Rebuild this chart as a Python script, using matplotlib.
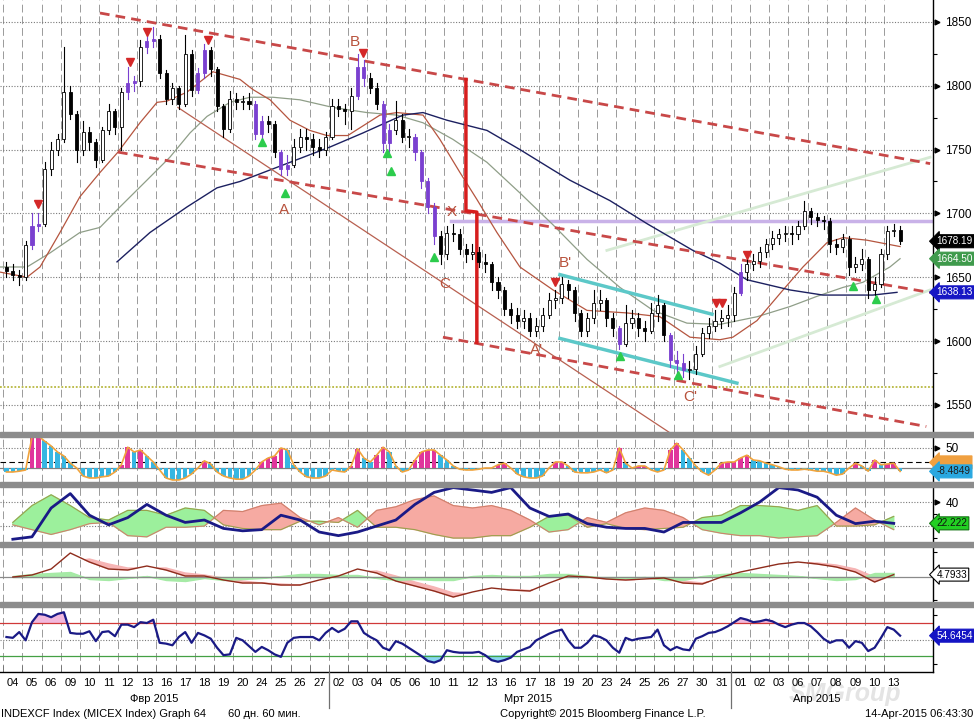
import matplotlib
matplotlib.use('Agg')
import matplotlib.pyplot as plt
import numpy as np
from matplotlib.patches import Rectangle
from matplotlib.lines import Line2D

plt.rcParams['font.family'] = ['Liberation Sans', 'DejaVu Sans']

# trading days on the axis
days = ['04', '05', '06', '09', '10', '11', '12', '13', '16', '17', '18', '19', '20', '24', '25', '26', '27',
        '02', '03', '04', '05', '06', '10', '11', '12', '13', '16', '17', '18', '19', '20', '23', '24', '25',
        '26', '27', '30', '31',
        '01', '02', '03', '06', '07', '08', '09', '10', '13']
months = ['Фвр 2015', 'Мрт 2015', 'Апр 2015']
month_label_x = [7.9, 27.4, 42.5]
month_breaks = [17, 38]

# price bars (3 per trading day)
first_open = 1658
close = [1655, 1652, 1650, 1675, 1690, 1692, 1735, 1750, 1758, 1795,
         1778, 1750, 1764, 1756, 1742, 1765, 1780, 1768, 1795, 1802,
         1804, 1830, 1835, 1837, 1810, 1790, 1798, 1786, 1825, 1797,
         1810, 1828, 1813, 1784, 1766, 1790, 1787, 1788, 1786, 1762,
         1772, 1770, 1748, 1735, 1738, 1752, 1760, 1758, 1752, 1750,
         1760, 1784, 1782, 1780, 1792, 1815, 1806, 1798, 1786, 1755,
         1765, 1773, 1760, 1760, 1748, 1725, 1705, 1682, 1668, 1685,
         1684, 1672, 1668, 1670, 1662, 1660, 1646, 1640, 1625, 1620,
         1616, 1618, 1608, 1612, 1620, 1632, 1634, 1645, 1640, 1622,
         1608, 1618, 1630, 1632, 1618, 1610, 1598, 1614, 1618, 1610,
         1608, 1622, 1628, 1605, 1585, 1583, 1577, 1578, 1590, 1606,
         1612, 1616, 1618, 1620, 1638, 1654, 1660, 1663, 1670, 1676,
         1681, 1684, 1685, 1684, 1690, 1702, 1697, 1695, 1694, 1676,
         1674, 1680, 1658, 1660, 1664, 1640, 1645, 1668, 1686, 1687,
         1678.19]
high = [1662, 1660, 1656, 1678, 1700, 1700, 1740, 1756, 1762, 1830,
        1800, 1780, 1772, 1768, 1758, 1768, 1786, 1782, 1798, 1815,
        1808, 1836, 1840, 1846, 1840, 1812, 1802, 1800, 1840, 1828,
        1814, 1833, 1830, 1815, 1786, 1796, 1794, 1792, 1794, 1788,
        1776, 1776, 1772, 1750, 1746, 1758, 1766, 1766, 1762, 1758,
        1764, 1790, 1790, 1786, 1798, 1825, 1820, 1810, 1802, 1788,
        1770, 1788, 1778, 1766, 1762, 1750, 1728, 1708, 1686, 1690,
        1692, 1688, 1676, 1676, 1674, 1668, 1662, 1650, 1642, 1630,
        1626, 1624, 1622, 1618, 1626, 1638, 1640, 1650, 1648, 1642,
        1624, 1622, 1640, 1640, 1634, 1622, 1612, 1628, 1624, 1622,
        1616, 1630, 1636, 1630, 1606, 1592, 1590, 1584, 1596, 1610,
        1618, 1624, 1624, 1628, 1642, 1660, 1664, 1668, 1674, 1680,
        1686, 1688, 1690, 1690, 1694, 1710, 1704, 1700, 1698, 1696,
        1680, 1684, 1682, 1666, 1672, 1666, 1650, 1672, 1690, 1692,
        1690]
low = [1650, 1648, 1644, 1648, 1672, 1686, 1690, 1730, 1746, 1756,
       1774, 1740, 1746, 1750, 1736, 1740, 1762, 1762, 1750, 1790,
       1796, 1800, 1826, 1830, 1806, 1786, 1786, 1782, 1784, 1792,
       1794, 1806, 1808, 1780, 1760, 1764, 1782, 1782, 1782, 1758,
       1758, 1764, 1744, 1730, 1730, 1736, 1748, 1750, 1746, 1744,
       1746, 1758, 1776, 1770, 1766, 1790, 1800, 1794, 1782, 1748,
       1748, 1762, 1756, 1752, 1742, 1720, 1700, 1676, 1660, 1664,
       1678, 1668, 1662, 1664, 1658, 1654, 1640, 1634, 1620, 1614,
       1610, 1610, 1604, 1604, 1608, 1618, 1626, 1630, 1634, 1616,
       1604, 1604, 1614, 1624, 1612, 1604, 1594, 1596, 1610, 1604,
       1600, 1606, 1616, 1600, 1580, 1576, 1572, 1570, 1574, 1588,
       1602, 1608, 1610, 1612, 1616, 1636, 1648, 1656, 1658, 1666,
       1672, 1676, 1678, 1676, 1680, 1688, 1692, 1690, 1688, 1670,
       1668, 1670, 1652, 1654, 1656, 1634, 1636, 1642, 1664, 1682,
       1676]
purple_bars = [4, 5, 19, 20, 22, 23, 30, 31, 39, 40, 43, 44, 55, 56, 59, 60,
               64, 65, 66, 67, 96, 104, 105, 106, 115]

# moving averages (day position, price)
ma_red_x = [-0.17, 1.24, 1.92, 2.96, 4.0, 5.05, 5.99, 7.14, 8.03, 8.55, 9.59, 10.95, 12.36, 13.04,
            13.93, 14.97, 16.01, 16.9, 17.99, 19.67, 20.56, 21.92, 22.8, 23.85, 24.73, 25.78, 26.98,
            28.71, 30.48, 32.57, 34.29, 35.86, 37.42, 38.1, 39.36, 40.72, 41.76, 43.01, 43.85, 45.1, 46.83]
ma_red_y = [1654, 1650, 1658, 1685, 1713, 1732, 1748, 1771, 1787, 1788, 1795, 1811, 1805, 1797,
            1789, 1773, 1765, 1761, 1761, 1777, 1779, 1777, 1758, 1732, 1711, 1685, 1658,
            1640, 1624, 1622, 1619, 1603, 1601, 1603, 1616, 1640, 1658, 1677, 1681, 1679, 1674]
ma_gray_x = [-0.17, 1.24, 2.44, 4.0, 5.05, 6.09, 7.5, 8.7, 9.75, 10.64, 11.84, 12.88, 14.08, 15.49,
             17.22, 18.99, 20.56, 21.92, 23.48, 25.26, 26.98, 28.71, 30.48, 32.2, 33.93, 35.7, 37.42,
             39.36, 41.08, 42.49, 43.85, 44.89, 46.3, 46.83]
ma_gray_y = [1658, 1658, 1669, 1685, 1689, 1705, 1726, 1744, 1763, 1776, 1787, 1791, 1791, 1789,
             1783, 1779, 1777, 1771, 1758, 1740, 1716, 1691, 1664, 1642, 1624, 1614, 1613,
             1619, 1627, 1635, 1642, 1646, 1658, 1664.5]
ma_navy_x = [5.94, 7.66, 9.59, 11.16, 12.36, 14.45, 17.06, 18.78, 19.67, 20.87, 21.92, 23.17, 25.26,
             26.98, 28.71, 29.59, 31.68, 33.61, 36.01, 37.42, 38.83, 41.08, 42.8, 45.41, 46.67]
ma_navy_y = [1662, 1685, 1705, 1720, 1725, 1737, 1752, 1763, 1769, 1777, 1779, 1773, 1765,
             1750, 1734, 1726, 1710, 1692, 1671, 1661, 1648, 1640, 1636, 1636, 1638.13]

# drawn trend lines (day position, price)
chan_upper = [(5.05, 1857), (48.4, 1739)]
chan_mid = [(5.99, 1748), (48.4, 1638)]
chan_low = [(22.96, 1603), (48.2, 1533)]
fall_line = [(9.12, 1783), (34.82, 1528)]
cyan_upper = [(29.07, 1652), (37.01, 1621)]
cyan_lower = [(29.07, 1602), (38.31, 1567)]
pale_upper = [(31.52, 1671), (48.4, 1744)]
pale_lower = [(37.42, 1580), (48.4, 1640)]
red_bars = [[(24.16, 1805), (24.16, 1702), (24.73, 1701), (24.73, 1599)]]
lilac_level, lilac_from = 1694, 23.4
yellow_level = 1564

wave_labels = [('B', 18.36, 1834), ('A', 14.66, 1703), ('X', 23.43, 1701), ('C', 23.07, 1645),
               ("B'", 29.33, 1661), ("A'", 27.87, 1593), ("C'", 35.86, 1556)]
sell_x = [1.81, 6.62, 7.5, 10.69, 18.78, 28.81, 37.22, 37.53, 38.83]
sell_y = [1707, 1819, 1842, 1836, 1826, 1646, 1630, 1630, 1667]
buy_x = [13.51, 14.71, 20.04, 20.25, 22.49, 32.2, 35.23, 44.37, 45.57]
buy_y = [1756, 1716, 1747, 1733, 1666, 1588, 1573, 1643, 1633]

# panel 1: oscillator histogram (per bar)
osc = [-10, -10, -8, -5, 77, 80, 67, 55, 40, 30,
       12, 0, -20, -25, -25, -22, -20, -10, 8, 52,
       40, 45, 30, 15, -5, -25, -30, -30, -25, -15,
       0, 18, 10, -10, -20, -25, -28, -28, -20, -5,
       15, 25, 30, 50, 45, 8, -10, -22, -25, -25,
       -20, -5, -8, -10, 5, 48, 25, 15, 32, 52,
       40, 5, -10, -5, 20, 40, 45, 45, 32, 20,
       5, -3, -5, -5, -3, 0, 0, 8, 12, 0,
       -15, -22, -25, -25, -20, 0, 15, 15, 5, -10,
       -12, -12, -10, -5, -12, -5, 50, 12, 0, 5,
       5, -5, -10, -5, 45, 62, 45, 25, 5, -10,
       -18, -5, 12, 15, 15, 25, 32, 20, 18, 12,
       8, 3, -3, -5, -5, -3, -5, -8, -8, -12,
       -18, -15, 0, 12, 5, -8, 20, 8, 10, 12,
       -8.4849]

# panel 2: directional movement (per day)
adx = [9, 11, 35, 47, 29, 21, 27, 38, 29, 23, 25, 18, 16, 17, 29, 25, 15, 12, 15, 20, 25, 38, 48, 52,
       50, 48, 52, 35, 28, 30, 22, 19, 18, 18, 15, 23, 23, 23, 31, 40, 52, 50, 44, 29, 22, 24, 22.222]
di_plus = [23, 37, 46, 37, 27, 25, 33, 33, 29, 35, 33, 21, 18, 17, 17, 24, 24, 23, 33, 19, 19, 17, 13, 10,
           10, 12, 12, 19, 28, 29, 19, 22, 18, 17, 18, 19, 27, 29, 37, 37, 36, 33, 37, 20, 20, 21, 28]
di_minus = [21, 17, 13, 17, 22, 23, 12, 11, 19, 19, 20, 33, 32, 37, 39, 27, 21, 27, 19, 33, 36, 42, 45, 37,
            35, 37, 33, 25, 15, 17, 27, 23, 31, 35, 33, 27, 17, 14, 12, 12, 10, 11, 12, 23, 35, 25, 17]

# panel 3: macd (per day)
macd = [0, 4, 16, 48, 30, 16, 14, 22, 14, 2, 2, -6, -12, -12, -16, -16, -6, 2, 16, 8, -8, -18, -28, -40,
        -30, -22, -26, -28, -12, 2, 0, -4, -6, -4, -2, -12, -14, 0, 10, 18, 26, 30, 26, 20, 10, -10, 4.7933]
macd_sig = [0, 2, 8, 30, 36, 26, 18, 18, 18, 8, 4, -2, -8, -12, -14, -16, -10, -2, 10, 12, 2, -10, -20, -32,
            -34, -26, -25, -27, -18, -4, 0, -2, -5, -5, -3, -8, -12, -4, 6, 14, 22, 28, 28, 24, 16, 0, 2]
macd_hist = [2, 6, 8, 10, -4, -6, -2, 2, -6, -8, -2, -6, -4, -2, 2, 6, 6, 4, 4, -2, -6, -4, -6, -6,
             2, 4, 2, 2, 6, 6, 2, -2, -2, 0, -6, -6, 2, 6, 8, 6, 4, 2, -2, -6, -4, 8, 8]

# panel 4: rsi (per bar)
rsi = [53, 52, 59, 49, 71, 81, 80, 77, 81, 83,
       58, 57, 57, 60, 48, 59, 60, 54, 68, 68,
       65, 71, 70, 74, 46, 45, 43, 53, 59, 46,
       58, 55, 51, 40, 31, 32, 52, 49, 42, 35,
       41, 37, 32, 29, 46, 52, 53, 53, 53, 49,
       58, 64, 59, 63, 72, 72, 58, 53, 49, 40,
       37, 48, 45, 40, 35, 30, 24, 22, 25, 37,
       35, 34, 34, 34, 35, 31, 25, 23, 25, 28,
       35, 38, 41, 49, 53, 57, 60, 62, 49, 40,
       40, 46, 55, 53, 49, 40, 34, 52, 49, 51,
       52, 53, 62, 43, 37, 41, 38, 37, 51, 54,
       58, 59, 62, 66, 71, 76, 74, 71, 72, 74,
       72, 68, 65, 68, 70, 70, 66, 59, 51, 46,
       49, 49, 40, 48, 46, 36, 40, 52, 65, 62,
       54.6454]

W, H = 974, 723
fig = plt.figure(figsize=(W / 100, H / 100), dpi=100)
fig.patch.set_facecolor('white')
aw = 933 / W


def box(top, bottom):
    return [0, 1 - bottom / H, aw, (bottom - top) / H]


ax = fig.add_axes(box(0, 432))
ax1 = fig.add_axes(box(437, 482))
ax2 = fig.add_axes(box(487, 542))
ax3 = fig.add_axes(box(547, 602))
ax4 = fig.add_axes(box(607, 672))
panels = [ax, ax1, ax2, ax3, ax4]

xlo, xhi = -0.17, 48.55
ndays = len(days)
grid_c = '#9a9a9a'

for a in panels:
    a.set_xlim(xlo, xhi)
    for s in ['left', 'top', 'bottom']:
        a.spines[s].set_visible(False)
    a.spines['right'].set_color('black')
    a.spines['right'].set_linewidth(1.0)
    a.yaxis.tick_right()
    a.set_xticks([])
    a.vlines(np.arange(ndays), 0, 1, transform=a.get_xaxis_transform(), colors=grid_c,
             linestyles=(0, (8, 4)), lw=0.7, zorder=0)
    a.tick_params(axis='y', which='major', length=0, pad=9, labelsize=8.5)
    a.tick_params(axis='y', which='minor', length=3, width=0.8, direction='out')

ax4.spines['bottom'].set_visible(True)
ax4.spines['bottom'].set_linewidth(1.0)


def right_labels(a, ticks):
    a.set_yticks(ticks)
    a.set_yticklabels([str(t) for t in ticks])
    a.plot(np.full(len(ticks), 1.004), ticks, transform=a.get_yaxis_transform(), marker='>',
           ms=3.5, color='black', ls='none', clip_on=False)


def tag(a, val, text, fc, tc, ec=None):
    a.annotate(text, xy=(1.0, val), xycoords=a.get_yaxis_transform(), xytext=(2.5, 0),
               textcoords='offset points', ha='left', va='center', fontsize=7.2, color=tc,
               bbox=dict(boxstyle='larrow,pad=0.15', fc=fc, ec=ec or fc, lw=0.8),
               annotation_clip=False, zorder=10)


# ---- main price panel
ax.set_ylim(1528.7, 1867.2)
levels = [1550, 1600, 1650, 1700, 1750, 1800, 1850]
for lv in levels:
    ax.axhline(lv, color='#7a7a7a', ls=(0, (1, 1.5)), lw=0.8, zorder=0)
right_labels(ax, levels)
ax.set_yticks(np.arange(1575, 1850, 50), minor=True)

ax.axhline(yellow_level, color='#b8b840', ls=(0, (1, 1)), lw=1.3, zorder=1)
ax.plot([lilac_from, xhi], [lilac_level, lilac_level], color='#c9b2e8', lw=2.5, zorder=1)

for ln in [pale_upper, pale_lower]:
    ax.plot(*zip(*ln), color='#d6ead4', lw=2, zorder=1)

ax.plot(ma_gray_x, ma_gray_y, color='#8f9e88', lw=0.9, zorder=2)
ax.plot(ma_red_x, ma_red_y, color='#b5553f', lw=0.9, zorder=2)
ax.plot(ma_navy_x, ma_navy_y, color='#1c2060', lw=1.0, zorder=2)
ax.plot(*zip(*fall_line), color='#b86050', lw=0.9, zorder=2)

for ln in [cyan_upper, cyan_lower]:
    ax.plot(*zip(*ln), color='#5cc8c8', lw=2.5, zorder=2)

for ln in [chan_upper, chan_mid, chan_low]:
    ax.plot(*zip(*ln), color='#c84848', lw=2, ls=(0, (3.5, 2.2)), zorder=3)

for seg in red_bars:
    ax.plot(*zip(*seg), color='#d61e1e', lw=2.5, zorder=3)

# candles
opens = [first_open] + close[:-1]
for i in range(len(close)):
    x = (i + 0.5) / 3
    o, c = opens[i], close[i]
    col = '#7a40d0' if i in purple_bars else 'black'
    ax.plot([x, x], [low[i], high[i]], color=col, lw=0.8, zorder=4)
    face = col if (c < o or i in purple_bars) else 'white'
    ax.add_patch(Rectangle((x - 0.08, min(o, c)), 0.16, max(abs(c - o), 0.8),
                           facecolor=face, edgecolor=col, lw=0.6, zorder=5))

ax.plot(sell_x, sell_y, 'v', color='#d42828', ms=6, zorder=6)
ax.plot(buy_x, buy_y, '^', color='#2ccc4c', ms=6, zorder=6)
for t, x, y in wave_labels:
    ax.text(x, y, t, color='#b8523c', fontsize=11, ha='center', va='center', zorder=6)

tag(ax, 1678.19, '1678.19', 'black', 'white')
tag(ax, 1664.5, '1664.50', '#3f9a4c', 'white')
tag(ax, 1638.13, '1638.13', '#1616c4', 'white')

# ---- panel 1: histogram oscillator
bx = (np.arange(len(osc)) + 0.5) / 3
ax1.set_ylim(-35, 77.5)
bar_cols = []
for i, v in enumerate(osc):
    prev = osc[i - 1] if i else v
    bar_cols.append('#e0359c' if (v > 0 and v >= prev) else '#36b6e2')
ax1.bar(bx, osc, width=0.24, color=bar_cols, zorder=2)
ax1.plot(bx, osc, color='#f0a33c', lw=1.2, zorder=3)
ax1.axhline(50, color='#7a7a7a', ls=(0, (1, 1.5)), lw=0.8, zorder=0)
ax1.axhline(15, color='black', ls=(0, (5, 3)), lw=0.8, zorder=1)
ax1.axhline(0, color='#808080', lw=0.9, zorder=1)
right_labels(ax1, [50])
tag(ax1, 14, '-8.4849', '#f0a040', '#f0a040')
tag(ax1, -8.4849, '-8.4849', '#2aa8e0', '#202020')

# ---- panel 2: directional movement
dx = np.arange(ndays) + 0.5
ax2.set_ylim(6.7, 52.5)
dp, dm = np.array(di_plus), np.array(di_minus)
ax2.fill_between(dx, dp, dm, where=dp >= dm, interpolate=True, color='#9cf09c', zorder=1)
ax2.fill_between(dx, dp, dm, where=dp < dm, interpolate=True, color='#f6aaa2', zorder=1)
ax2.plot(dx, dp, color='#9aa04c', lw=0.8, zorder=2)
ax2.plot(dx, dm, color='#d0806c', lw=0.8, zorder=2)
ax2.plot(dx, adx, color='#1a1a86', lw=2, zorder=3)
for lv in [40, 20]:
    ax2.axhline(lv, color='#7a7a7a', ls=(0, (1, 1.5)), lw=0.8, zorder=0)
right_labels(ax2, [40])
ax2.set_yticks([30, 10], minor=True)
tag(ax2, 22.222, '22.222', '#22d022', '#101010', '#107010')

# ---- panel 3: macd
ax3.set_ylim(-50, 60)
m, sg = np.array(macd), np.array(macd_sig)
ax3.fill_between(dx, m, sg, where=sg > m, interpolate=True, color='#f6b4b4', zorder=1)
ax3.fill_between(dx, 0, macd_hist, color='#a6eaa6', zorder=1)
ax3.axhline(0, color='#8a8a8a', lw=0.9, zorder=1)
ax3.plot(dx, macd, color='#8e2c1c', lw=1.0, zorder=3)
ax3.set_yticks([])
ax3.set_yticks([50, -45], minor=True)
tag(ax3, 4.7933, '4.7933', 'white', 'black', 'black')

# ---- panel 4: rsi
ax4.set_ylim(10.6, 89.4)
r = np.array(rsi, dtype=float)
ax4.fill_between(bx, 70, r, where=r > 70, interpolate=True, color='#f2b8dc', zorder=1)
ax4.fill_between(bx, 30, r, where=r < 30, interpolate=True, color='#86d6ee', zorder=1)
ax4.axhline(70, color='#d03838', lw=0.9, zorder=2)
ax4.axhline(30, color='#44a044', lw=0.9, zorder=2)
ax4.axhline(50, color='#7a7a7a', ls=(0, (1, 1.5)), lw=0.8, zorder=0)
ax4.plot(bx, r, color='#1a1a86', lw=1.6, zorder=3)
ax4.set_yticks([])
ax4.set_yticks([80, 20], minor=True)
tag(ax4, 54.6454, '54.6454', '#1414c4', 'white')

# day axis
ax4.set_xticks(np.arange(ndays) + 0.5)
ax4.set_xticklabels(days, fontsize=8)
ax4.set_xticks(np.arange(ndays), minor=True)
ax4.tick_params(axis='x', which='major', length=0, pad=4)
ax4.tick_params(axis='x', which='minor', length=5, direction='in', color='#707070')

# panel separators
for top in [432, 482, 542, 602]:
    fig.add_artist(Rectangle((0, 1 - (top + 5) / H), 1, 5 / H, transform=fig.transFigure,
                             color='#8c8c8c', zorder=20))

# month separators and labels
for b in month_breaks:
    xf = aw * (b - xlo) / (xhi - xlo)
    fig.add_artist(Line2D([xf, xf], [1 - 672 / H, 1 - 708 / H], transform=fig.transFigure,
                          color='#707070', lw=0.9))
for name, mx in zip(months, month_label_x):
    xf = aw * (mx - xlo) / (xhi - xlo)
    fig.text(xf, 1 - 699 / H, name, ha='center', va='center', fontsize=8)

# faint watermark, sits behind the axis labels
fig.text(845 / W, 1 - 694 / H, 'SMGroup', ha='center', va='center', fontsize=18,
         color='#e4e4e4', style='italic', fontweight='bold', zorder=-1)

fy = 1 - 714 / H
fig.text(1 / W, fy, 'INDEXCF Index (MICEX Index) Graph 64', ha='left', va='center', fontsize=8)
fig.text(228 / W, fy, '60 дн. 60 мин.', ha='left', va='center', fontsize=8)
fig.text(500 / W, fy, 'Copyright© 2015 Bloomberg Finance L.P.', ha='left', va='center', fontsize=8)
fig.text(973 / W, fy, '14-Apr-2015 06:43:30', ha='right', va='center', fontsize=8)

fig.savefig('out.png', dpi=100, facecolor='white')
